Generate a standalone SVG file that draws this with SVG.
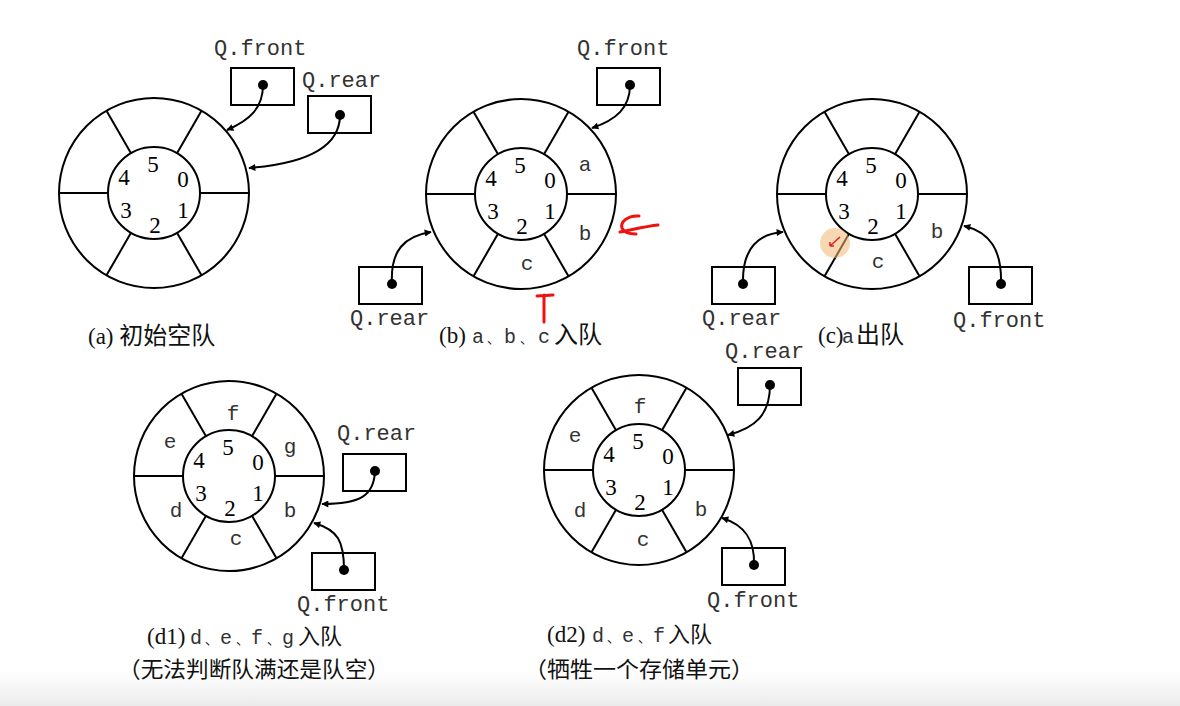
<svg xmlns="http://www.w3.org/2000/svg" width="1180" height="706" viewBox="0 0 1180 706">
<style>
.ln{fill:none;stroke:#000;stroke-width:2}
.bx{fill:#fff;stroke:#000;stroke-width:2}
.dg{font-family:"Liberation Serif","Times New Roman",serif;font-size:23px;fill:#000;text-anchor:middle}
.lt{font-family:"Liberation Mono","Courier New",monospace;font-size:21px;fill:#333;text-anchor:middle}
.lb{font-family:"Liberation Mono","Courier New",monospace;font-size:22px;fill:#333}
.cap{font-family:"Liberation Serif","Noto Sans CJK SC",serif;font-size:23px;fill:#111}
.mo{font-family:"Liberation Mono","Courier New",monospace;font-size:20px;fill:#333}
.cj{font-family:"Noto Sans CJK SC",serif;font-size:24px}
.c2{font-family:"Noto Sans CJK SC",serif;font-size:22px}
.dn{font-family:"Noto Sans CJK SC",serif;font-size:13px}
.cn{fill:none;stroke:#000;stroke-width:2}
.red{fill:none;stroke:#f01010;stroke-width:3;stroke-linecap:round;stroke-linejoin:round}
</style>
<defs>
<marker id="ah" viewBox="0 0 10 10" refX="9" refY="5" markerWidth="9" markerHeight="7" markerUnits="userSpaceOnUse" orient="auto">
<path d="M0,0 L10,5 L0,10 z" fill="#000"/>
</marker>
<linearGradient id="bot" x1="0" y1="0" x2="0" y2="1">
<stop offset="0" stop-color="#ffffff"/>
<stop offset="1" stop-color="#ebebeb"/>
</linearGradient>
<g id="ring">
<circle r="95" class="ln"/>
<circle r="46" class="ln"/>
<line class="ln" x1="46" y1="0" x2="95" y2="0"/>
<line class="ln" x1="-46" y1="0" x2="-95" y2="0"/>
<line class="ln" x1="23" y1="-39.8" x2="47.5" y2="-82.3"/>
<line class="ln" x1="-23" y1="-39.8" x2="-47.5" y2="-82.3"/>
<line class="ln" x1="23" y1="39.8" x2="47.5" y2="82.3"/>
<line class="ln" x1="-23" y1="39.8" x2="-47.5" y2="82.3"/>
<text class="dg" x="-1" y="-21">5</text>
<text class="dg" x="29" y="-6">0</text>
<text class="dg" x="-30" y="-8">4</text>
<text class="dg" x="-28" y="25">3</text>
<text class="dg" x="1" y="40">2</text>
<text class="dg" x="29" y="25">1</text>
</g>
<g id="box">
<rect x="0" y="0" width="63" height="37" class="bx"/>
</g>
</defs>
<rect width="1180" height="706" fill="#fff"/>
<rect x="0" y="672" width="1180" height="34" fill="url(#bot)"/>

<!-- (a) -->
<g id="ring-a"><use href="#ring" x="154" y="193"/></g>
<g id="a-front"><text class="lb" x="214" y="55">Q.front</text><use href="#box" x="231" y="68"/><circle cx="263" cy="85" r="5"/></g>
<g id="a-rear"><text class="lb" x="302" y="87">Q.rear</text><use href="#box" x="308" y="96"/><circle cx="340" cy="115" r="5"/></g>
<text id="cap-a" class="cap" x="88" y="344">(a) <tspan class="cj">初始空队</tspan></text>

<!-- (b) -->
<g id="ring-b"><use href="#ring" x="521" y="194"/>
<text class="lt" x="585" y="171">a</text><text class="lt" x="585" y="240">b</text><text class="lt" x="527" y="270">c</text></g>
<g id="b-front"><text class="lb" x="577" y="55">Q.front</text><use href="#box" x="597" y="68"/><circle cx="630" cy="85" r="5"/></g>
<g id="b-rear"><text class="lb" x="350" y="325">Q.rear</text><use href="#box" x="359" y="267"/><circle cx="392" cy="284" r="5"/></g>
<text id="cap-b" class="cap" y="343"><tspan x="439">(b)</tspan><tspan class="mo" x="472">a</tspan><tspan class="dn" x="487">、</tspan><tspan class="mo" x="504">b</tspan><tspan class="dn" x="520">、</tspan><tspan class="mo" x="538">c</tspan><tspan class="cj" x="554">入队</tspan></text>

<!-- (c) -->
<g id="ring-c"><use href="#ring" x="872" y="194"/>
<text class="lt" x="937" y="238">b</text><text class="lt" x="878" y="268">c</text></g>
<g id="c-rear"><text class="lb" x="702" y="325">Q.rear</text><use href="#box" x="712" y="267"/><circle cx="743" cy="284" r="5"/></g>
<g id="c-front"><text class="lb" x="953" y="327">Q.front</text><use href="#box" x="969" y="267"/><circle cx="1001" cy="284" r="5"/></g>
<text id="cap-c" class="cap" y="343"><tspan x="818">(c)</tspan><tspan class="mo" x="842">a</tspan><tspan class="cj" x="856">出队</tspan></text>

<!-- (d1) -->
<g id="ring-d1"><use href="#ring" x="229" y="476"/>
<text class="lt" x="233" y="420">f</text><text class="lt" x="170" y="448">e</text><text class="lt" x="290" y="453">g</text>
<text class="lt" x="176" y="517">d</text><text class="lt" x="290" y="517">b</text><text class="lt" x="236" y="545">c</text></g>
<g id="d1-rear"><text class="lb" x="337" y="440">Q.rear</text><use href="#box" x="343" y="454"/><circle cx="375" cy="471" r="5"/></g>
<g id="d1-front"><text class="lb" x="297" y="611">Q.front</text><use href="#box" x="312" y="553"/><circle cx="344" cy="570" r="5"/></g>
<text id="cap-d1" class="cap" y="644"><tspan x="147">(d1)</tspan><tspan class="mo" x="190">d</tspan><tspan class="dn" x="205">、</tspan><tspan class="mo" x="220">e</tspan><tspan class="dn" x="236">、</tspan><tspan class="mo" x="251">f</tspan><tspan class="dn" x="267">、</tspan><tspan class="mo" x="282">g</tspan><tspan class="c2" x="298" font-size="23">入队</tspan></text>
<text id="cap-d1b" class="cap" x="118" y="677"><tspan class="c2" textLength="272" lengthAdjust="spacingAndGlyphs">（无法判断队满还是队空）</tspan></text>

<!-- (d2) -->
<g id="ring-d2"><use href="#ring" x="639" y="470"/>
<text class="lt" x="640" y="413">f</text><text class="lt" x="575" y="442">e</text>
<text class="lt" x="580" y="517">d</text><text class="lt" x="701" y="516">b</text><text class="lt" x="643" y="546">c</text></g>
<g id="d2-rear"><text class="lb" x="725" y="358">Q.rear</text><use href="#box" x="738" y="368"/><circle cx="770" cy="385" r="5"/></g>
<g id="d2-front"><text class="lb" x="707" y="607">Q.front</text><use href="#box" x="722" y="548"/><circle cx="754" cy="565" r="5"/></g>
<text id="cap-d2" class="cap" y="642"><tspan x="547">(d2)</tspan><tspan class="mo" x="592">d</tspan><tspan class="dn" x="607">、</tspan><tspan class="mo" x="622">e</tspan><tspan class="dn" x="638">、</tspan><tspan class="mo" x="653">f</tspan><tspan class="c2" x="668" font-size="23">入队</tspan></text>
<text id="cap-d2b" class="cap" x="524" y="677"><tspan class="c2" textLength="230" lengthAdjust="spacingAndGlyphs">（牺牲一个存储单元）</tspan></text>

<!-- connectors -->
<g id="connectors">
<path class="cn" marker-end="url(#ah)" d="M263,85 C263,108 250,120 227,130"/>
<path class="cn" marker-end="url(#ah)" d="M340,115 C340,150 300,164 249,168"/>
<path class="cn" marker-end="url(#ah)" d="M630,85 C630,108 616,120 592,128"/>
<path class="cn" marker-end="url(#ah)" d="M392,284 C390,250 405,236 431,232"/>
<path class="cn" marker-end="url(#ah)" d="M743,284 C742,250 756,234 783,232"/>
<path class="cn" marker-end="url(#ah)" d="M1001,284 C1002,250 990,232 964,226"/>
<path class="cn" marker-end="url(#ah)" d="M375,471 C374,496 360,504 322,504"/>
<path class="cn" marker-end="url(#ah)" d="M344,570 C344,541 338,530 314,523"/>
<path class="cn" marker-end="url(#ah)" d="M770,385 C770,415 755,428 728,435"/>
<path class="cn" marker-end="url(#ah)" d="M754,565 C755,540 745,525 722,518"/>
</g>

<!-- annotations -->
<g id="annotations">
<path class="red" d="M639,216 C628,215 620,222 622,228 C624,233 630,234 636,234"/>
<path class="red" d="M620,232 C635,229 648,226 658,225"/>
<path class="red" d="M544,295 L544,322 M537,296 L553,295"/>
<circle cx="835" cy="243" r="15" fill="#f3b872" opacity="0.55"/>
<path d="M840,237 L830,246 M830,246 L830,242 M830,246 L834,246" stroke="#e02020" stroke-width="1.5" fill="none"/>
</g>
</svg>
